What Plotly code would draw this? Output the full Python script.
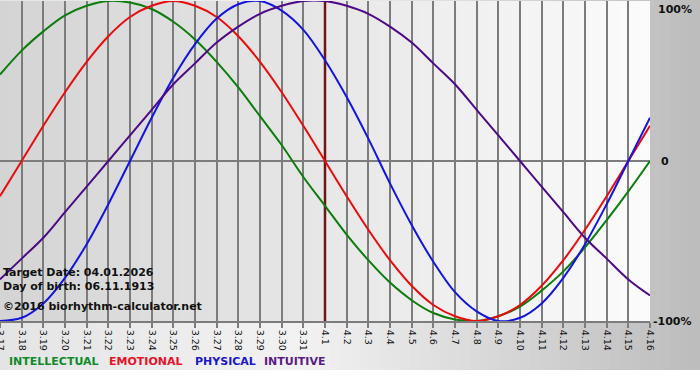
import plotly.graph_objects as go

dates = ["3.17", "3.18", "3.19", "3.20", "3.21", "3.22", "3.23", "3.24", "3.25", "3.26",
         "3.27", "3.28", "3.29", "3.30", "3.31", "4.1", "4.2", "4.3", "4.4", "4.5",
         "4.6", "4.7", "4.8", "4.9", "4.10", "4.11", "4.12", "4.13", "4.14", "4.15", "4.16"]
target_day = "4.1"

intellectual = [0.54, 0.69, 0.81, 0.91, 0.97, 1.00, 0.99, 0.95, 0.87, 0.76,
                0.62, 0.46, 0.28, 0.10, -0.10, -0.28, -0.46, -0.62, -0.76, -0.87,
                -0.95, -0.99, -1.00, -0.97, -0.91, -0.81, -0.69, -0.54, -0.37, -0.19, 0.00]
emotional = [-0.22, 0.00, 0.22, 0.43, 0.62, 0.78, 0.90, 0.97, 1.00, 0.97,
             0.90, 0.78, 0.62, 0.43, 0.22, 0.00, -0.22, -0.43, -0.62, -0.78,
             -0.90, -0.97, -1.00, -0.97, -0.90, -0.78, -0.62, -0.43, -0.22, 0.00, 0.22]
physical = [-1.00, -0.98, -0.89, -0.73, -0.52, -0.27, 0.00, 0.27, 0.52, 0.73,
            0.89, 0.98, 1.00, 0.94, 0.82, 0.63, 0.40, 0.14, -0.14, -0.40,
            -0.63, -0.82, -0.94, -1.00, -0.98, -0.89, -0.73, -0.52, -0.27, 0.00, 0.27]
intuitive = [-0.74, -0.61, -0.48, -0.32, -0.16, 0.00, 0.16, 0.32, 0.48, 0.61,
             0.74, 0.84, 0.92, 0.97, 1.00, 1.00, 0.97, 0.92, 0.84, 0.74,
             0.61, 0.48, 0.32, 0.16, 0.00, -0.16, -0.32, -0.48, -0.61, -0.74, -0.84]

series = [
    ("INTELLECTUAL", intellectual, "#0a7d0a"),
    ("EMOTIONAL", emotional, "#e80c0c"),
    ("PHYSICAL", physical, "#1414dc"),
    ("INTUITIVE", intuitive, "#4e0a86"),
]
legend_colors = ["#0f8a2a", "#e8102a", "#1818c8", "#5a1a86"]

W, H = 700, 380
ML, MR, MT, MB = 0, 50, 1, 59
PW, PH = W - ML - MR, H - MT - MB

def px_x(p):
    return (p - ML) / PW

def px_y(p):
    return (H - MB - p) / PH

def lerp(a, b, t):
    return int(round(a + (b - a) * t))

shapes = []
# outer background gradient (whole figure down to y=370)
n = 70
for k in range(n):
    x0p = k * W / n
    x1p = (k + 1) * W / n + 0.5
    xc = (x0p + x1p) / 2
    if xc < 300:
        c = lerp(0xe4, 0xf2, xc / 300)
    else:
        c = lerp(0xf2, 0xbc, (xc - 300) / 400)
    shapes.append(dict(type="rect", xref="paper", yref="paper",
                       x0=px_x(x0p), x1=px_x(x1p), y0=px_y(370), y1=px_y(-2),
                       fillcolor=f"rgb({c},{c},{c})", line=dict(width=0), layer="below"))
# plot area gradient
m = 65
for k in range(m):
    x0p = k * PW / m
    x1p = (k + 1) * PW / m + 0.5
    t = (k + 0.5) / m
    c = lerp(0xd4, 0xfb, t)
    shapes.append(dict(type="rect", xref="paper", yref="paper",
                       x0=px_x(x0p), x1=min(1, px_x(x1p)), y0=0, y1=1,
                       fillcolor=f"rgb({c},{c},{c})", line=dict(width=0), layer="below"))

fig = go.Figure()

# target day marker line (beneath the curves)
fig.add_trace(go.Scatter(x=[target_day, target_day], y=[-1, 1], mode="lines",
                         line=dict(color="#6e1616", width=2.5), hoverinfo="skip",
                         showlegend=False))

for name, vals, col in series:
    fig.add_trace(go.Scatter(x=dates, y=vals, mode="lines", name=name,
                             line=dict(color=col, width=2, shape="spline", smoothing=1.0),
                             showlegend=False))

annotations = []
info = [("Target Date: 04.01.2026", 272), ("Day of birth: 06.11.1913", 286),
        ("\u00a92016 biorhythm-calculator.net", 306.5)]
for txt, yp in info:
    annotations.append(dict(text=f"<b>{txt}</b>", xref="paper", yref="paper",
                            x=px_x(1), y=px_y(yp), xanchor="left", yanchor="middle",
                            showarrow=False,
                            font=dict(family="DejaVu Sans", size=11, color="#111111")))

legend_x = [7, 107, 193, 262]
for (name, _, _), lx, lc in zip(series, legend_x, legend_colors):
    annotations.append(dict(text=f"<b>{name}</b>", xref="paper", yref="paper",
                            x=px_x(lx), y=px_y(361.5), xanchor="left", yanchor="middle",
                            showarrow=False,
                            font=dict(family="DejaVu Sans", size=11, color=lc)))

for txt, yv, ya, xp in [("100%", 1, "top", 656), ("0", 0, "middle", 659),
                        ("-100%", -1, "middle", 651)]:
    annotations.append(dict(text=f"<b>{txt}</b>", xref="paper", yref="y",
                            x=px_x(xp), y=yv, xanchor="left", yanchor=ya,
                            showarrow=False,
                            font=dict(family="DejaVu Sans", size=11, color="#111111")))

fig.update_layout(
    width=W, height=H,
    margin=dict(l=ML, r=MR, t=MT, b=MB, pad=0, autoexpand=False),
    paper_bgcolor="white",
    plot_bgcolor="rgba(0,0,0,0)",
    shapes=shapes,
    annotations=annotations,
    showlegend=False,
    xaxis=dict(type="category", categoryorder="array", categoryarray=dates,
               range=[0, len(dates) - 1], tickmode="array",
               tickvals=dates, ticktext=dates, tickangle=90, automargin=False,
               showgrid=True, gridcolor="#7c7c7c", gridwidth=1.5,
               ticks="outside", ticklen=5, tickcolor="#7c7c7c", tickwidth=1.5,
               tickfont=dict(family="DejaVu Sans", size=9.5, color="#111111"),
               showline=True, linecolor="#7c7c7c", linewidth=1.5,
               zeroline=False, fixedrange=True),
    yaxis=dict(range=[-1, 1], tickvals=[-1, 0, 1], showticklabels=False, automargin=False,
               showgrid=True, gridcolor="#7c7c7c", gridwidth=1.5,
               zeroline=False, showline=False, fixedrange=True),
)

fig.write_html("out.html", config={"displayModeBar": False},
               post_script="document.body.style.margin='0';document.body.style.padding='0';")
